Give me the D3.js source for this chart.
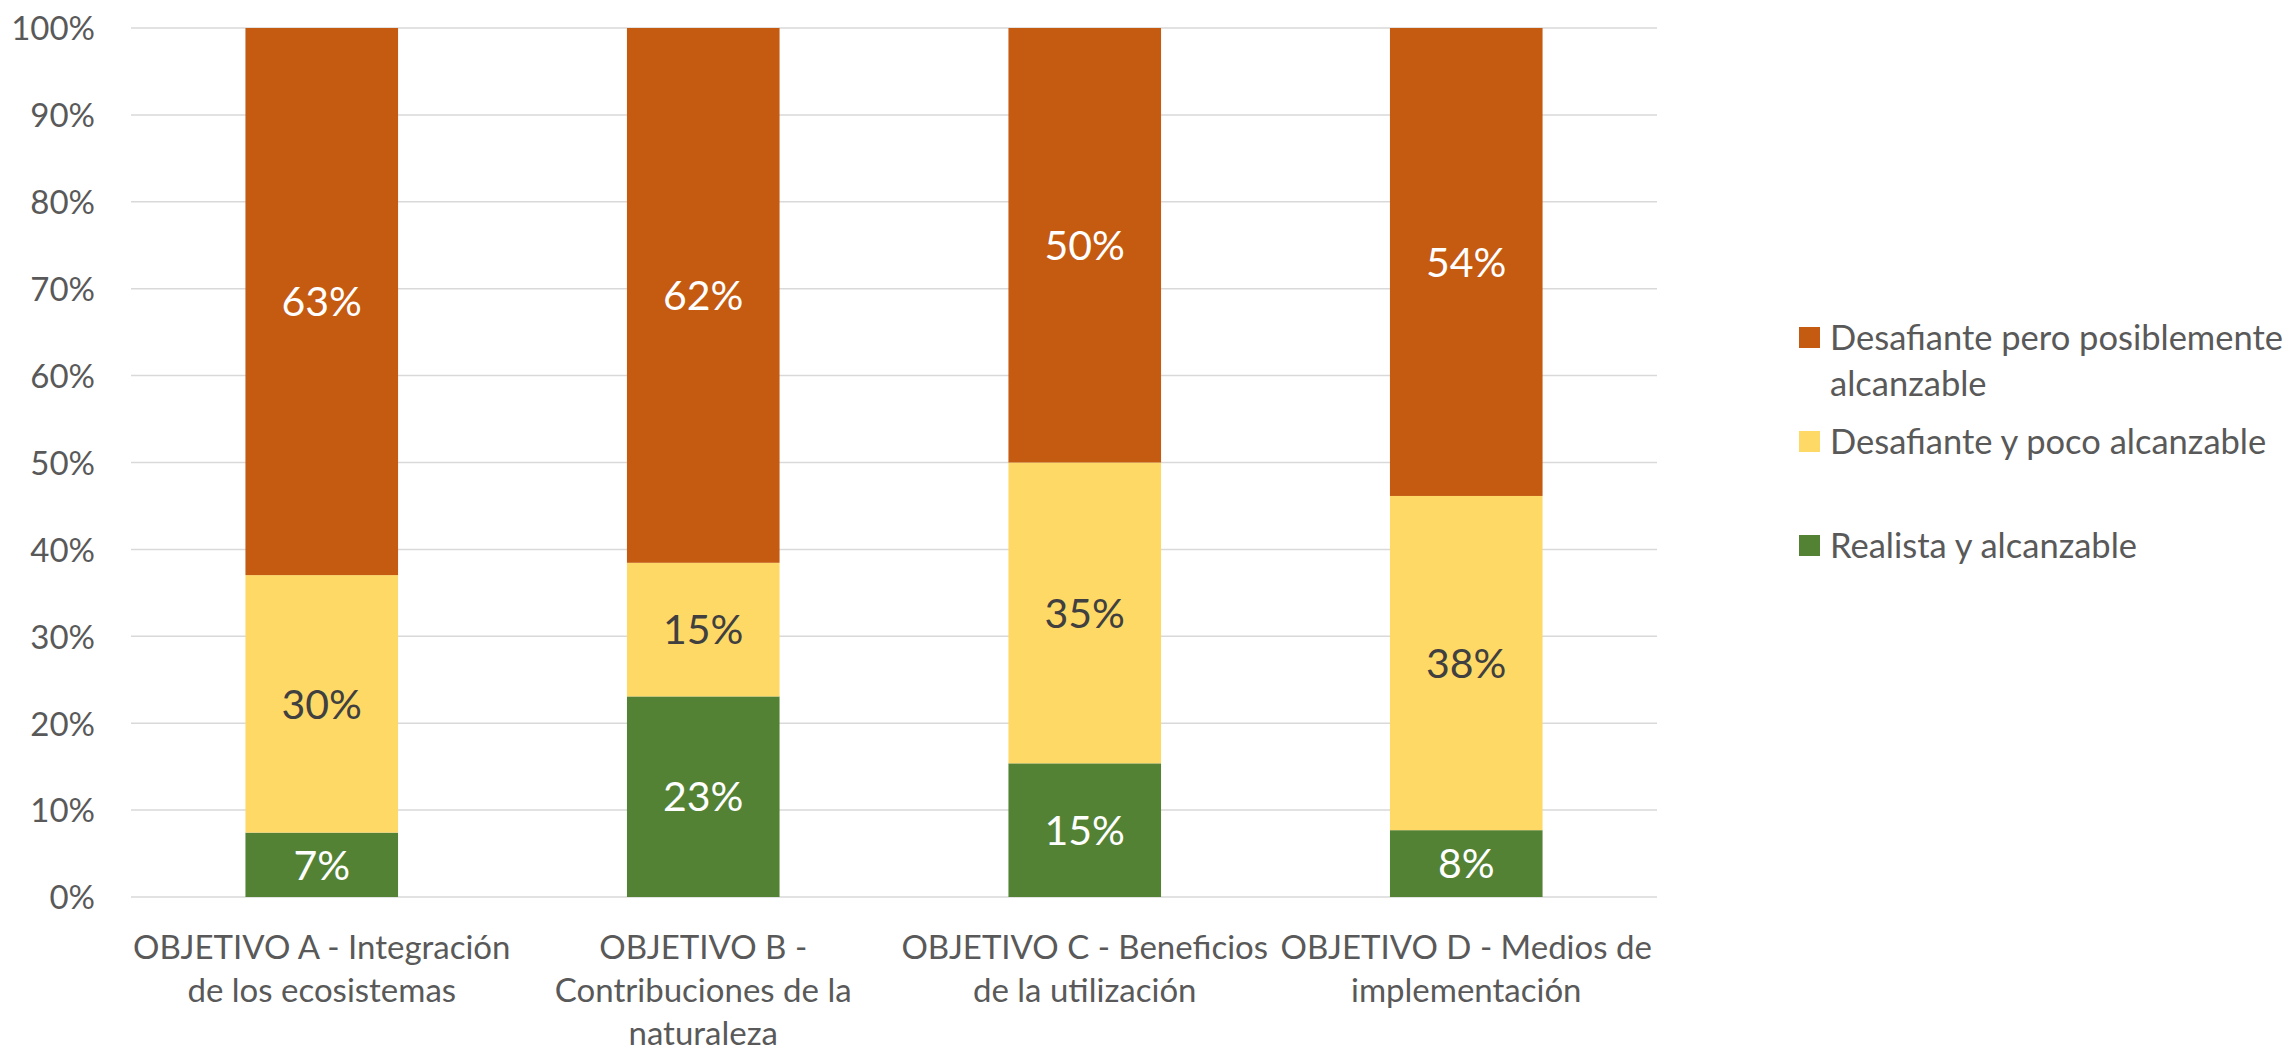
<!DOCTYPE html>
<html>
<head>
<meta charset="utf-8">
<script src="https://cdn.jsdelivr.net/npm/d3@7"></script>
<style>
  html, body { margin: 0; padding: 0; background: #ffffff; }
  svg { display: block; }
</style>
</head>
<body>
<svg id="chart" width="2292" height="1051"></svg>
<script>
// ---- data ----
const categories = [
  "OBJETIVO A - Integración\nde los ecosistemas",
  "OBJETIVO B -\nContribuciones de la\nnaturaleza",
  "OBJETIVO C - Beneficios\nde la utilización",
  "OBJETIVO D - Medios de\nimplementación"
];
const seriesNames = [
  "Realista y alcanzable",
  "Desafiante y poco alcanzable",
  "Desafiante pero posiblemente\nalcanzable"
];
const realista   = [0.0741, 0.2308, 0.1538, 0.0769];
const pocoAlc    = [0.2963, 0.1538, 0.3462, 0.3846];
const posibleAlc = [0.6296, 0.6154, 0.5000, 0.5385];
const yTicks = [0, 0.1, 0.2, 0.3, 0.4, 0.5, 0.6, 0.7, 0.8, 0.9, 1.0];

const colors = ["#548235", "#FFD966", "#C55A11"];
const labelColors = ["#ffffff", "#404040", "#ffffff"];
const textGrey = "#595959";
const fontFamily = "Lato, 'Open Sans', sans-serif";

// ---- layout ----
const svg = d3.select("#chart");
const plot = { left: 131, right: 1657, top: 28, bottom: 897 };

const x = d3.scaleBand().domain(categories).range([plot.left, plot.right]).paddingInner(0).paddingOuter(0);
const y = d3.scaleLinear().domain([0, 1]).range([plot.bottom, plot.top]);
const barW = x.bandwidth() * 0.4;

const rows = categories.map((c, i) => ({
  cat: c, s0: realista[i], s1: pocoAlc[i], s2: posibleAlc[i]
}));
const stack = d3.stack().keys(["s0", "s1", "s2"])(rows);

// gridlines
svg.append("g")
  .selectAll("line")
  .data(yTicks)
  .join("line")
  .attr("x1", plot.left).attr("x2", plot.right)
  .attr("y1", d => y(d)).attr("y2", d => y(d))
  .attr("stroke", "#d9d9d9").attr("stroke-width", 1.5);

// y axis labels
const yAxis = d3.axisLeft(y).tickValues(yTicks).tickFormat(d3.format(".0%")).tickSize(0).tickPadding(0);
const yg = svg.append("g").attr("transform", `translate(95,0)`).call(yAxis);
yg.select(".domain").remove();
yg.selectAll("text")
  .attr("fill", textGrey)
  .style("font-family", fontFamily)
  .style("font-size", "33px")
  .attr("dy", "0.36em");

// bars
const layers = svg.append("g").selectAll("g")
  .data(stack)
  .join("g")
  .attr("fill", (d, i) => colors[i]);

layers.selectAll("rect")
  .data(d => d)
  .join("rect")
  .attr("x", d => x(d.data.cat) + (x.bandwidth() - barW) / 2)
  .attr("width", barW)
  .attr("y", d => y(d[1]))
  .attr("height", d => y(d[0]) - y(d[1]));

// data labels
stack.forEach((layer, li) => {
  svg.append("g").selectAll("text")
    .data(layer)
    .join("text")
    .attr("x", d => x(d.data.cat) + x.bandwidth() / 2)
    .attr("y", d => (y(d[0]) + y(d[1])) / 2)
    .attr("dy", "0.36em")
    .attr("text-anchor", "middle")
    .attr("fill", labelColors[li])
    .style("font-family", fontFamily)
    .style("font-size", "41px")
    .text(d => d3.format(".0%")(d[1] - d[0]));
});

// x axis category labels
const xg = svg.append("g");
categories.forEach(c => {
  const t = xg.append("text")
    .attr("text-anchor", "middle")
    .attr("fill", textGrey)
    .style("font-family", fontFamily)
    .style("font-size", "33px");
  c.split("\n").forEach((line, li) => {
    t.append("tspan")
      .attr("x", x(c) + x.bandwidth() / 2)
      .attr("y", 947 + li * 43)
      .attr("dy", "0.36em")
      .text(line);
  });
});

// legend (top to bottom like the stack)
const legendItems = [
  { idx: 2, y: 337.5 },
  { idx: 1, y: 441.5 },
  { idx: 0, y: 545.5 }
];
const lg = svg.append("g");
legendItems.forEach(item => {
  lg.append("rect")
    .attr("x", 1799).attr("y", item.y - 10.5)
    .attr("width", 21).attr("height", 21)
    .attr("fill", colors[item.idx]);
  const t = lg.append("text")
    .attr("fill", textGrey)
    .style("font-family", fontFamily)
    .style("font-size", "34.5px");
  seriesNames[item.idx].split("\n").forEach((line, li) => {
    t.append("tspan")
      .attr("x", 1830)
      .attr("y", item.y + li * 46)
      .attr("dy", "0.36em")
      .text(line);
  });
});
</script>
</body>
</html>
